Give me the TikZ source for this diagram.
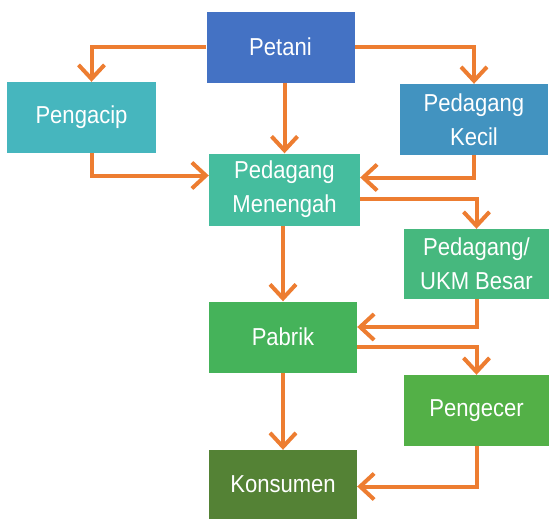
\documentclass[tikz,border=0pt]{standalone}
\usepackage{fontspec}
\setmainfont[FakeStretch=0.9]{Liberation Sans}
\usetikzlibrary{arrows.meta}

\definecolor{petaniblue}{HTML}{4472C4}
\definecolor{acipteal}{HTML}{46B6BE}
\definecolor{kecilblue}{HTML}{4293C0}
\definecolor{menengahgreen}{HTML}{45BD9E}
\definecolor{besargreen}{HTML}{46B87E}
\definecolor{pabrikgreen}{HTML}{45B35A}
\definecolor{ecergreen}{HTML}{53B047}
\definecolor{konsumengreen}{HTML}{548235}
\definecolor{floworange}{HTML}{ED7D31}

\begin{document}
\begin{tikzpicture}[
    x=1pt, y=-1pt,
    font=\fontsize{24.5}{34}\selectfont,
    >={Straight Barb[length=14pt,width=26pt]},
    box/.style={
        text=white,
        align=center,
        inner sep=0pt,
        minimum width=148pt,
        minimum height=71pt
    },
    flow/.style={
        ->,
        draw=floworange,
        line width=4pt
    }
]
\useasboundingbox (0,0) rectangle (549,520);

\node[box, fill=petaniblue] (petani) at (280.5,47) {Petani};
\node[box, fill=acipteal, minimum width=149pt] (pengacip) at (81.5,117.5) {Pengacip};
\node[box, fill=kecilblue] (kecil) at (474,119.5) {Pedagang\\Kecil};
\node[box, fill=menengahgreen, minimum width=151pt, minimum height=72pt] (menengah) at (284.5,189.5) {Pedagang\\Menengah};
\node[box, fill=besargreen, minimum width=145pt, minimum height=70pt] (besar) at (476.5,264) {Pedagang/\\UKM Besar};
\node[box, fill=pabrikgreen] (pabrik) at (283,337) {Pabrik};
\node[box, fill=ecergreen, minimum width=145pt] (pengecer) at (476.5,410.5) {Pengecer};
\node[box, fill=konsumengreen, minimum height=69pt] (konsumen) at (283,484.5) {Konsumen};

% from petani
\draw[flow] (petani.west) -| ([xshift=10pt]pengacip.north);
\draw[flow] (petani.east) -| (kecil.north);
\draw[flow] (petani.south -| menengah.north) -- (menengah.north);

% into menengah
\draw[flow] ([xshift=10pt]pengacip.south) |- ([yshift=14pt]menengah.west);
\draw[flow] (kecil.south) |- ([yshift=12pt]menengah.east);

% from menengah
\draw[flow] ([yshift=-9pt]menengah.east) -| (besar.north);
\draw[flow] (menengah.south -| pabrik.north) -- (pabrik.north);

% into and from pabrik
\draw[flow] (besar.south) |- ([yshift=10pt]pabrik.east);
\draw[flow] ([yshift=-10pt]pabrik.east) -| (pengecer.north);
\draw[flow] (pabrik) -- (konsumen);
\draw[flow] (pengecer.south) |- ([yshift=-2pt]konsumen.east);

\end{tikzpicture}
\end{document}
